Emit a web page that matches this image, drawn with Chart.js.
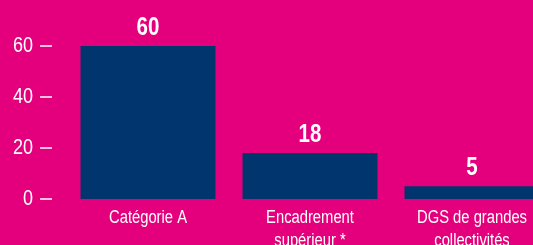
<!DOCTYPE html>
<html>
<head>
<meta charset="utf-8">
<script src="https://cdn.jsdelivr.net/npm/chart.js@4/dist/chart.umd.min.js"></script>
<style>
  html, body { margin: 0; padding: 0; background: #E4007D; overflow: hidden; }
  #wrap { width: 560px; height: 245px; }
</style>
</head>
<body>
<div id="wrap"><canvas id="myBarChart" width="560" height="245"></canvas></div>
<script>
  const categories = [
    'Catégorie A',
    ['Encadrement', 'supérieur *'],
    ['DGS de grandes', 'collectivités']
  ];
  const values = [60, 18, 5];
  const yTicks = [0, 20, 40, 60];

  const family = "'Liberation Sans', Arial, sans-serif";
  const squeeze = 0.82; // the original uses a narrow face

  function narrowText(ctx, text, x, y, align) {
    ctx.save();
    ctx.translate(x, y);
    ctx.scale(squeeze, 1);
    ctx.textAlign = align;
    ctx.fillText(text, 0, 0);
    ctx.restore();
  }

  // axis labels and values, drawn in a condensed style
  const narrowLabels = {
    id: 'narrowLabels',
    afterDraw(chart) {
      const ctx = chart.ctx;
      const xs = chart.scales.x;
      const ys = chart.scales.y;
      const meta = chart.getDatasetMeta(0);
      ctx.save();
      ctx.fillStyle = '#ffffff';
      ctx.strokeStyle = '#ffffff';
      ctx.textBaseline = 'alphabetic';

      // y ticks
      ctx.font = '22px ' + family;
      ctx.lineWidth = 1.5;
      ys.ticks.forEach((t) => {
        const py = ys.getPixelForValue(t.value);
        narrowText(ctx, String(t.value), 33, py + 6, 'right');
        ctx.beginPath();
        ctx.moveTo(40, py);
        ctx.lineTo(52, py);
        ctx.stroke();
      });

      // x category labels
      ctx.font = '18px ' + family;
      categories.forEach((c, i) => {
        const px = xs.getPixelForTick(i);
        const lines = Array.isArray(c) ? c : [c];
        lines.forEach((line, j) => {
          narrowText(ctx, line, px, 223 + j * 23, 'center');
        });
      });

      // values above bars
      ctx.font = 'bold 25px ' + family;
      meta.data.forEach((bar, i) => {
        narrowText(ctx, String(values[i]), bar.x, bar.y - 11, 'center');
      });
      ctx.restore();
    }
  };

  const barData = {
    labels: categories,
    datasets: [{
      data: values,
      backgroundColor: '#00356E',
      barPercentage: 0.833,
      categoryPercentage: 1
    }]
  };

  const barConfig = {
    type: 'bar',
    data: barData,
    options: {
      responsive: false,
      animation: false,
      layout: { padding: { top: 46, right: 7, left: 0, bottom: 0 } },
      plugins: {
        legend: { display: false },
        tooltip: { enabled: false }
      },
      scales: {
        x: {
          grid: { display: false },
          border: { display: false },
          ticks: { display: false },
          afterFit: (scale) => { scale.height = 46; }
        },
        y: {
          min: 0,
          max: 60,
          afterBuildTicks: (scale) => { scale.ticks = yTicks.map(v => ({ value: v })); },
          afterFit: (scale) => { scale.width = 67; },
          grid: { display: false },
          border: { display: false },
          ticks: { display: false }
        }
      }
    },
    plugins: [narrowLabels]
  };

  const myBarChart = new Chart(
    document.getElementById('myBarChart'),
    barConfig
  );
</script>
</body>
</html>
